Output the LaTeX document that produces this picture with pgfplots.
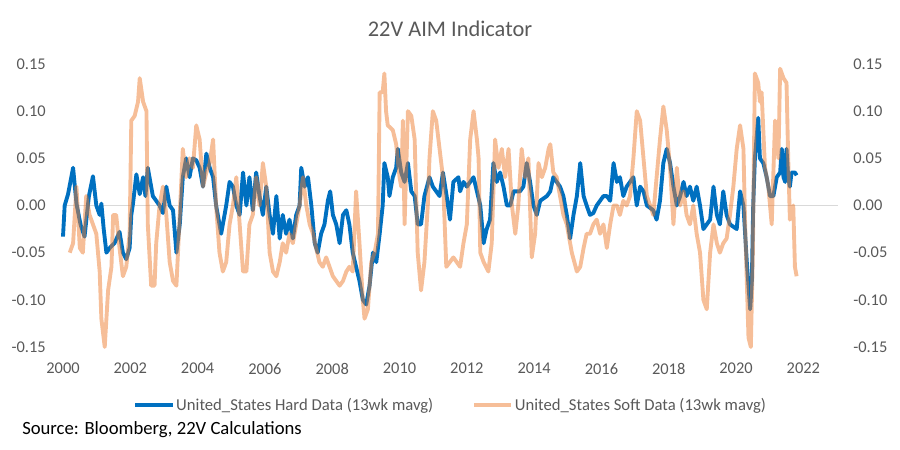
\documentclass[border=0pt]{standalone}
\usepackage{pgfplots}
\pgfplotsset{compat=1.18}
\usepackage{fontspec}
\setmainfont{Carlito}
\definecolor{hardblue}{RGB}{0,112,192}
\definecolor{softorange}{RGB}{237,125,49}
\definecolor{txtgrey}{RGB}{89,89,89}
\definecolor{gridgrey}{RGB}{217,217,217}
\pgfplotstableread{
x y
2000.00 -0.033
2000.05 0.000
2000.15 0.012
2000.30 0.040
2000.40 0.002
2000.52 -0.020
2000.64 -0.033
2000.77 0.010
2000.89 0.031
2000.99 0.000
2001.09 -0.010
2001.14 0.002
2001.21 -0.025
2001.29 -0.050
2001.39 -0.045
2001.53 -0.040
2001.68 -0.028
2001.78 -0.050
2001.88 -0.057
2001.98 -0.045
2002.03 -0.010
2002.08 0.002
2002.18 0.033
2002.28 0.012
2002.38 0.030
2002.45 0.010
2002.52 0.040
2002.67 0.010
2002.87 0.000
2002.97 -0.008
2003.07 0.020
2003.17 0.000
2003.27 -0.005
2003.37 -0.050
2003.47 -0.020
2003.56 0.030
2003.66 0.050
2003.76 0.030
2003.86 0.050
2003.96 0.048
2004.06 0.040
2004.16 0.020
2004.26 0.055
2004.36 0.040
2004.46 0.030
2004.55 0.000
2004.65 -0.020
2004.70 -0.030
2004.85 0.000
2004.95 0.025
2005.05 0.020
2005.15 0.000
2005.25 -0.010
2005.35 0.035
2005.45 0.000
2005.54 0.030
2005.64 -0.005
2005.74 0.035
2005.84 0.010
2005.94 -0.010
2006.04 0.020
2006.14 -0.010
2006.24 -0.030
2006.34 0.010
2006.44 -0.035
2006.53 -0.010
2006.63 -0.030
2006.73 -0.015
2006.83 -0.035
2006.93 -0.010
2007.03 0.000
2007.08 0.040
2007.18 0.020
2007.28 0.030
2007.38 0.000
2007.48 -0.040
2007.57 -0.050
2007.67 -0.030
2007.77 -0.020
2007.87 0.005
2007.94 0.015
2008.02 -0.010
2008.12 -0.020
2008.22 -0.040
2008.32 -0.010
2008.42 -0.005
2008.51 -0.020
2008.61 -0.050
2008.71 -0.065
2008.81 -0.080
2008.91 -0.100
2009.01 -0.105
2009.11 -0.085
2009.21 -0.050
2009.31 -0.060
2009.41 -0.030
2009.50 0.000
2009.55 0.045
2009.65 0.030
2009.70 0.010
2009.80 0.030
2009.90 0.040
2009.95 0.060
2010.05 0.035
2010.15 0.025
2010.25 0.045
2010.35 0.015
2010.45 0.010
2010.54 -0.020
2010.64 -0.020
2010.74 0.010
2010.89 0.030
2010.99 0.020
2011.19 0.010
2011.29 0.035
2011.40 0.010
2011.50 -0.015
2011.60 0.025
2011.75 0.030
2011.80 0.015
2011.90 0.025
2012.00 0.020
2012.10 0.025
2012.20 0.030
2012.30 0.015
2012.40 0.000
2012.50 -0.040
2012.59 -0.025
2012.69 -0.015
2012.79 0.045
2012.89 0.025
2012.99 0.035
2013.09 0.020
2013.19 0.000
2013.29 0.000
2013.39 0.015
2013.58 0.015
2013.68 0.020
2013.78 0.045
2013.88 0.025
2013.98 0.000
2014.08 -0.010
2014.18 0.005
2014.38 0.010
2014.48 0.015
2014.57 0.030
2014.67 0.025
2014.77 0.020
2014.87 0.010
2014.97 -0.010
2015.07 -0.035
2015.17 -0.010
2015.27 0.010
2015.37 0.045
2015.47 0.010
2015.56 0.000
2015.66 -0.010
2015.76 -0.008
2015.86 0.000
2015.96 0.005
2016.06 0.010
2016.16 0.010
2016.26 0.005
2016.36 0.045
2016.46 0.025
2016.55 0.030
2016.65 0.010
2016.75 0.020
2016.85 0.025
2016.95 0.030
2017.05 0.000
2017.15 0.020
2017.25 0.015
2017.35 0.000
2017.54 -0.005
2017.64 -0.015
2017.74 0.005
2017.84 0.045
2017.94 0.060
2018.04 0.045
2018.14 0.020
2018.24 0.000
2018.34 0.010
2018.44 0.025
2018.53 0.010
2018.63 0.020
2018.73 0.005
2018.83 0.020
2018.93 0.000
2019.03 -0.025
2019.13 -0.020
2019.23 -0.015
2019.33 0.020
2019.43 -0.010
2019.52 -0.020
2019.62 0.015
2019.72 -0.010
2019.82 -0.020
2020.02 -0.025
2020.12 0.015
2020.22 0.000
2020.32 -0.060
2020.42 -0.110
2020.47 -0.080
2020.51 0.000
2020.56 0.050
2020.66 0.093
2020.71 0.050
2020.81 0.045
2020.91 0.030
2021.01 0.010
2021.11 0.010
2021.21 0.030
2021.31 0.035
2021.36 0.060
2021.41 0.030
2021.46 0.025
2021.50 0.060
2021.55 0.030
2021.60 0.020
2021.65 0.035
2021.75 0.035
2021.80 0.032
}\harddata
\pgfplotstableread{
x y
2000.20 -0.050
2000.30 -0.040
2000.40 0.020
2000.50 -0.045
2000.59 -0.050
2000.69 0.010
2000.79 -0.010
2000.89 -0.020
2000.99 -0.030
2001.09 -0.070
2001.14 -0.120
2001.24 -0.150
2001.34 -0.090
2001.44 -0.065
2001.49 -0.010
2001.58 -0.010
2001.68 -0.045
2001.78 -0.075
2001.88 -0.065
2001.98 -0.030
2002.03 0.090
2002.13 0.095
2002.23 0.110
2002.28 0.135
2002.38 0.110
2002.48 0.100
2002.52 -0.020
2002.62 -0.085
2002.72 -0.085
2002.77 -0.040
2002.87 0.000
2002.97 0.020
2003.07 -0.010
2003.17 -0.060
2003.27 -0.080
2003.37 -0.085
2003.47 -0.010
2003.56 0.060
2003.66 0.030
2003.76 0.050
2003.86 0.040
2003.96 0.085
2004.06 0.070
2004.16 0.020
2004.26 0.035
2004.36 0.045
2004.46 0.070
2004.55 0.000
2004.65 -0.050
2004.75 -0.070
2004.85 -0.060
2004.95 -0.020
2005.05 0.000
2005.15 0.030
2005.25 -0.020
2005.35 -0.070
2005.45 -0.070
2005.54 -0.020
2005.64 -0.010
2005.74 0.030
2005.84 0.000
2005.94 0.045
2006.04 0.020
2006.14 -0.050
2006.24 -0.070
2006.34 -0.075
2006.44 -0.060
2006.53 -0.040
2006.63 -0.050
2006.73 -0.030
2006.83 -0.040
2006.93 -0.020
2007.03 0.000
2007.13 0.030
2007.23 0.000
2007.33 -0.020
2007.43 -0.030
2007.52 -0.045
2007.62 -0.060
2007.72 -0.065
2007.82 -0.055
2007.92 -0.065
2008.02 -0.075
2008.12 -0.080
2008.22 -0.085
2008.32 -0.080
2008.42 -0.070
2008.51 -0.065
2008.61 -0.070
2008.71 0.015
2008.81 -0.040
2008.91 -0.100
2008.96 -0.120
2009.06 -0.110
2009.16 -0.060
2009.26 -0.050
2009.36 -0.030
2009.41 0.120
2009.50 0.120
2009.55 0.140
2009.60 0.100
2009.65 0.085
2009.80 0.080
2009.90 0.065
2010.00 0.030
2010.05 0.020
2010.10 0.090
2010.15 -0.020
2010.25 0.100
2010.35 0.095
2010.45 0.070
2010.54 -0.050
2010.64 -0.090
2010.74 -0.060
2010.84 0.000
2010.89 0.050
2010.99 0.100
2011.09 0.090
2011.19 0.060
2011.29 0.030
2011.39 -0.065
2011.60 -0.055
2011.80 -0.065
2011.90 -0.040
2012.00 -0.020
2012.10 0.070
2012.20 0.100
2012.30 0.070
2012.35 0.050
2012.40 -0.050
2012.50 -0.060
2012.64 -0.070
2012.74 -0.040
2012.84 0.070
2012.94 0.040
2013.04 0.060
2013.14 0.030
2013.24 0.060
2013.34 0.000
2013.44 -0.030
2013.53 0.000
2013.63 0.060
2013.73 0.030
2013.83 0.050
2013.93 -0.055
2014.03 -0.030
2014.13 0.045
2014.23 0.030
2014.33 0.040
2014.43 0.060
2014.48 0.065
2014.57 0.035
2014.67 0.030
2014.77 0.010
2014.87 -0.010
2014.97 -0.020
2015.12 -0.050
2015.27 -0.070
2015.37 -0.065
2015.47 -0.045
2015.56 -0.030
2015.66 -0.030
2015.76 -0.020
2015.86 -0.015
2015.96 -0.030
2016.06 -0.020
2016.16 -0.045
2016.26 -0.020
2016.36 0.000
2016.46 0.000
2016.55 -0.010
2016.65 0.005
2016.75 0.000
2016.85 0.010
2016.95 0.050
2017.05 0.100
2017.15 0.090
2017.25 0.050
2017.35 0.010
2017.45 0.000
2017.54 -0.010
2017.64 0.030
2017.74 0.070
2017.84 0.105
2017.94 0.080
2018.04 0.040
2018.14 -0.020
2018.24 0.040
2018.34 0.000
2018.44 0.015
2018.53 -0.010
2018.63 -0.020
2018.73 0.000
2018.83 -0.030
2018.93 -0.050
2019.03 -0.100
2019.13 -0.110
2019.23 -0.050
2019.33 -0.020
2019.43 -0.040
2019.52 -0.050
2019.62 -0.040
2019.72 -0.035
2019.82 -0.010
2019.92 0.020
2020.02 0.060
2020.12 0.085
2020.22 0.060
2020.27 -0.020
2020.37 -0.140
2020.44 -0.150
2020.50 -0.050
2020.56 0.140
2020.66 0.130
2020.71 0.110
2020.76 0.120
2020.86 0.040
2020.96 0.020
2021.06 -0.020
2021.16 0.090
2021.26 0.050
2021.31 0.145
2021.41 0.135
2021.50 0.130
2021.55 0.050
2021.60 -0.015
2021.70 0.000
2021.75 -0.065
2021.80 -0.075
}\softdata
\begin{document}
\begin{tikzpicture}
\path[use as bounding box] (0,0) rectangle (675pt,337.5pt);
\begin{axis}[
  at={(47.25pt,77.25pt)}, anchor=south west,
  width=581.25pt, height=212.25pt, scale only axis,
  xmin=2000, xmax=2023.03, ymin=-0.15, ymax=0.15,
  axis line style={draw=none}, tick style={draw=none},
  major tick length=0pt,
  xtick={2000,2002,...,2022},
  xticklabels={2000,2002,2004,2006,2008,2010,2012,2014,2016,2018,2020,2022},
  ytick={-0.15,-0.10,-0.05,0,0.05,0.10,0.15},
  yticklabels={-0.15,-0.10,-0.05,0.00,0.05,0.10,0.15},
  extra y ticks={0}, extra y tick labels={},
  extra y tick style={grid=major, major grid style={draw=gridgrey, line width=0.6pt}},
  xticklabel style={font=\fontsize{12.3pt}{14pt}\selectfont, text=txtgrey, anchor=north, inner sep=0pt, yshift=-12pt},
  yticklabel style={font=\fontsize{12.3pt}{14pt}\selectfont, text=txtgrey, anchor=east, inner sep=0pt, xshift=-12.75pt},
  clip=false,
  legend columns=2,
  legend style={at={(0.5000,-0.205)}, anchor=center, draw=none, fill=none,
    font=\fontsize{12.5pt}{14pt}\selectfont, text=txtgrey, inner sep=0pt,
    nodes={inner sep=1.2pt},
    /tikz/every even column/.append style={column sep=28pt}},
  legend image code/.code={\draw[#1] (0pt,0pt) -- (28pt,0pt);},
]
\addplot[hardblue, line width=2.9pt, line join=round] table[x=x,y=y] {\harddata};
\addlegendentry{United\_States Hard Data (13wk mavg)}
\addplot[softorange, draw opacity=0.5, line width=2.9pt, line join=round] table[x=x,y=y] {\softdata};
\addlegendentry{United\_States Soft Data (13wk mavg)}
\end{axis}
\begin{axis}[
  at={(47.25pt,77.25pt)}, anchor=south west,
  width=581.25pt, height=212.25pt, scale only axis,
  xmin=2000, xmax=2023.03, ymin=-0.15, ymax=0.15,
  axis line style={draw=none}, tick style={draw=none},
  major tick length=0pt,
  xtick=\empty,
  ytick={-0.15,-0.10,-0.05,0,0.05,0.10,0.15},
  yticklabels={-0.15,-0.10,-0.05,0.00,0.05,0.10,0.15},
  yticklabel pos=right,
  yticklabel style={font=\fontsize{12.3pt}{14pt}\selectfont, text=txtgrey, anchor=west, inner sep=0pt, xshift=11.25pt},
]
\addplot[draw=none] coordinates {(2000,0)};
\end{axis}
\node[font=\fontsize{16.8pt}{19pt}\selectfont, text=txtgrey] at (337.5pt,315.75pt) {22V AIM Indicator};
\node[font=\fontsize{14pt}{16pt}\selectfont, text=black, anchor=west, inner sep=0pt] at (16.5pt,15pt) {Source: Bloomberg, 22V Calculations};
\end{tikzpicture}
\end{document}
